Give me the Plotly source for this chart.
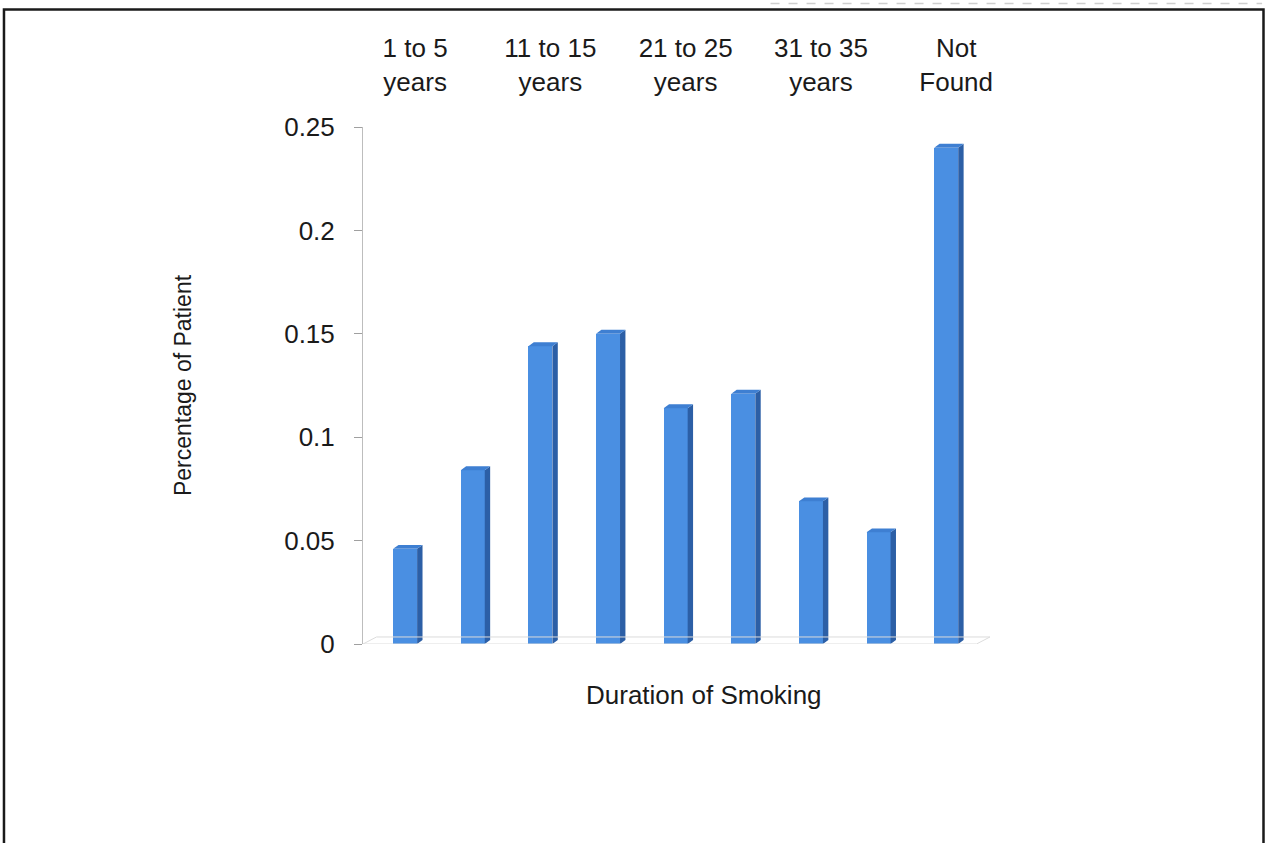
import plotly.graph_objects as go

# Share of patients by smoking duration
categories = [
    "1 to 5 years", "6 to 10 years", "11 to 15 years", "16 to 20 years",
    "21 to 25 years", "26 to 30 years", "31 to 35 years", "36 to 40 years",
    "Not Found",
]
shares = [0.046, 0.084, 0.144, 0.150, 0.114, 0.121, 0.069, 0.054, 0.240]

# Every other category is labelled along the top edge
label_idx = [0, 2, 4, 6, 8]
label_text = ["1 to 5<br>years", "11 to 15<br>years", "21 to 25<br>years",
              "31 to 35<br>years", "Not<br>Found"]

y_ticks = [0, 0.05, 0.1, 0.15, 0.2, 0.25]
y_tick_text = ["0", "0.05", "0.1", "0.15", "0.2", "0.25"]

FONT = "Liberation Sans, Arial, sans-serif"
INK = "#1a1a1a"
FRONT = "#4A8FE2"
SIDE = "#2C5FA6"
TOP = "#3E7FD2"

pos = list(range(len(categories)))
bar_offset = -0.325      # left edge of the front face relative to category centre
bar_width = 0.355
depth_dx = 0.08          # horizontal depth of the extruded side
depth_dy = 0.0019        # vertical depth (in value units)

fig = go.Figure()

# front faces
fig.add_trace(go.Bar(
    x=pos, y=shares, width=bar_width, offset=bar_offset,
    marker=dict(color=FRONT, line=dict(width=0)),
    hovertext=categories, showlegend=False,
))

# side and top faces of each column
side_x, side_y, top_x, top_y = [], [], [], []
for p, v in zip(pos, shares):
    xl = p + bar_offset
    xr = xl + bar_width
    side_x += [xr, xr + depth_dx, xr + depth_dx, xr, xr, None]
    side_y += [0, depth_dy, v + depth_dy, v, 0, None]
    top_x += [xl, xl + depth_dx, xr + depth_dx, xr, xl, None]
    top_y += [v, v + depth_dy, v + depth_dy, v, v, None]

fig.add_trace(go.Scatter(x=side_x, y=side_y, mode="lines", fill="toself",
                         fillcolor=SIDE, line=dict(width=0, color=SIDE),
                         hoverinfo="skip", showlegend=False))
fig.add_trace(go.Scatter(x=top_x, y=top_y, mode="lines", fill="toself",
                         fillcolor=TOP, line=dict(width=0, color=TOP),
                         hoverinfo="skip", showlegend=False))

x_lo, x_hi = -0.77, 8.5
floor_col = "#dcdcdc"
floor_back = 0.0034
shapes = [
    # floor of the 3-D plot
    dict(type="line", xref="x", yref="y", x0=x_lo, y0=0, x1=x_hi - 0.2, y1=0,
         line=dict(color=floor_col, width=1)),
    dict(type="line", xref="x", yref="y", x0=x_lo + 0.2, y0=floor_back, x1=x_hi, y1=floor_back,
         line=dict(color=floor_col, width=1)),
    dict(type="line", xref="x", yref="y", x0=x_lo, y0=0, x1=x_lo + 0.2, y1=floor_back,
         line=dict(color=floor_col, width=1)),
    dict(type="line", xref="x", yref="y", x0=x_hi - 0.2, y0=0, x1=x_hi, y1=floor_back,
         line=dict(color=floor_col, width=1)),
    # outer frame
    dict(type="rect", xref="paper", yref="paper", x0=-0.5726, x1=1.4362, y0=-0.39, y1=1.2275,
         line=dict(color=INK, width=2.5), fillcolor="rgba(0,0,0,0)", layer="below"),
    # faint rule above the frame
    dict(type="line", xref="paper", yref="paper", x0=0.65, x1=1.434, y0=1.239, y1=1.239,
         line=dict(color="#cfcfcf", width=1.5, dash="dash")),
]

fig.update_layout(
    width=1268, height=843,
    margin=dict(l=363, r=278, t=127, b=199, pad=0),
    paper_bgcolor="white", plot_bgcolor="white",
    font=dict(family=FONT, size=26, color=INK),
    bargap=0, showlegend=False, shapes=shapes,
    xaxis=dict(
        range=[x_lo, x_hi], side="top", tickmode="array",
        tickvals=label_idx, ticktext=label_text,
        showgrid=False, zeroline=False, showline=False, ticks="",
        tickfont=dict(size=26, family=FONT, color=INK),
        ticklabelstandoff=30,
    ),
    yaxis=dict(
        range=[0, 0.25], tickmode="array", tickvals=y_ticks, ticktext=y_tick_text,
        showgrid=False, zeroline=False, showline=True, linecolor="#bdbdbd", linewidth=1,
        ticks="outside", ticklen=8, tickcolor="#a0a0a0", tickwidth=1,
        tickfont=dict(size=26, family=FONT, color=INK),
        ticklabelstandoff=14,
        title=dict(text="Percentage of Patient", standoff=86,
                   font=dict(size=23, family=FONT, color=INK)),
    ),
    annotations=[dict(
        text="Duration of Smoking", xref="paper", yref="paper",
        x=(704 - 363) / 627, y=(644 - 695) / 517.3, xanchor="center", yanchor="middle",
        showarrow=False, font=dict(size=26, family=FONT, color=INK),
    )],
)

fig.write_html("out.html")
